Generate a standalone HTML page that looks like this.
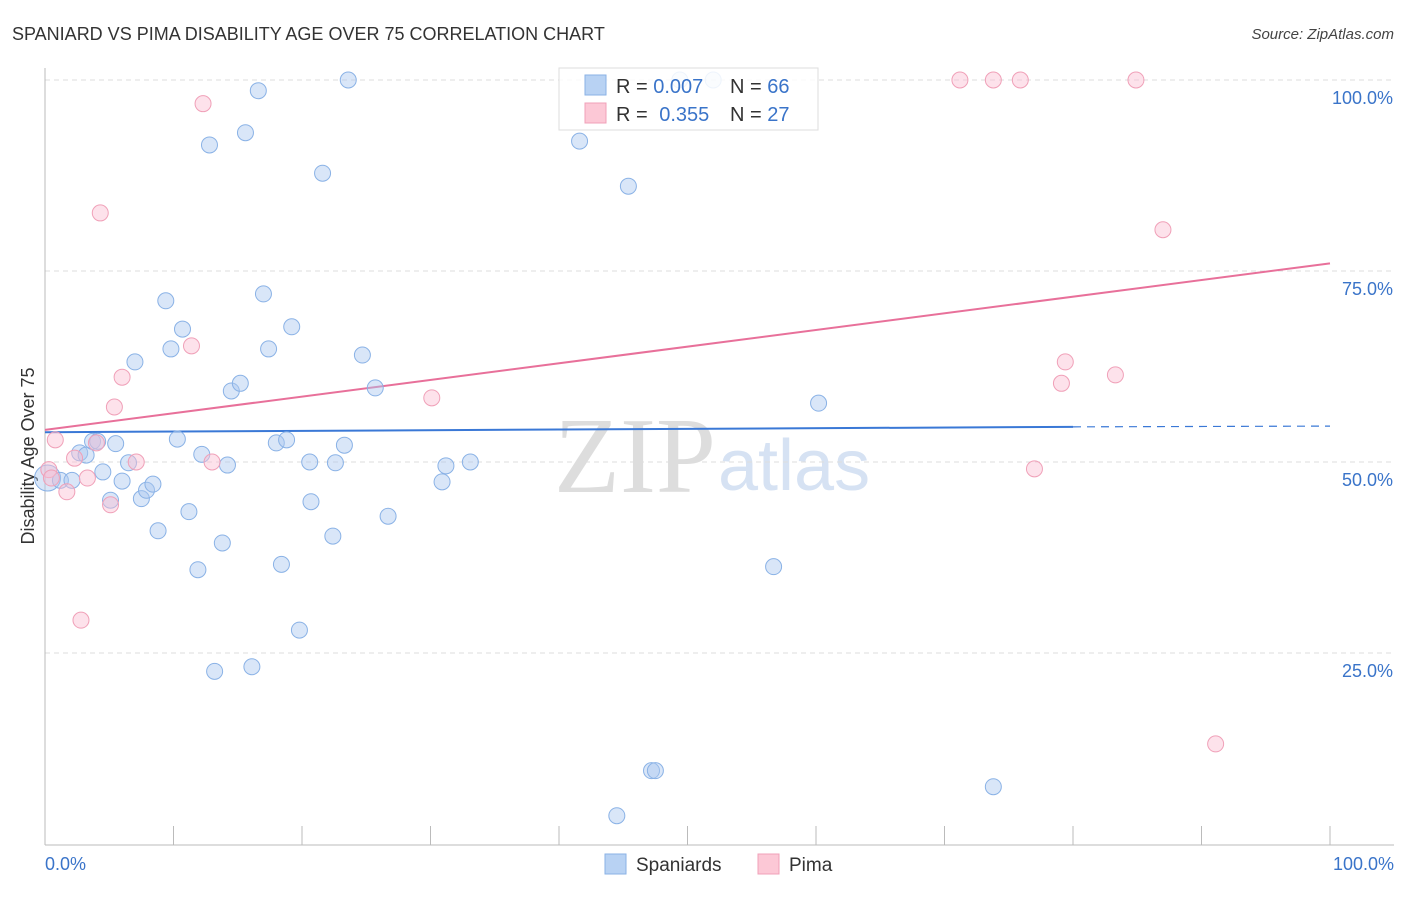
<!DOCTYPE html>
<html><head><meta charset="utf-8"><style>
body{margin:0;background:#fff;font-family:"Liberation Sans",sans-serif;}
</style></head><body>
<svg width="1406" height="892" xmlns="http://www.w3.org/2000/svg" id="chart">
<text x="12" y="40" font-size="18" fill="#333">SPANIARD VS PIMA DISABILITY AGE OVER 75 CORRELATION CHART</text>
<text x="1394" y="39" font-size="15" fill="#444" font-style="italic" text-anchor="end">Source: ZipAtlas.com</text>
<text x="34" y="456" font-size="18" fill="#333" text-anchor="middle" transform="rotate(-90 34 456)">Disability Age Over 75</text>
<text x="716" y="492" font-size="108" fill="#ddd" font-family="Liberation Serif,serif" text-anchor="end">ZIP</text>
<text x="718" y="490" font-size="72" fill="#d6e2f3" text-anchor="start">atlas</text>
<g id="grid"></g><g id="axes"></g><g id="trend"></g><g id="pts"></g>
<g>
<rect x="559" y="68" width="259" height="62" fill="#fff" fill-opacity="0.85" stroke="#ddd"/>
<rect x="585" y="75" width="21" height="20" fill="#b8d2f3" stroke="#8ab2e6"/>
<rect x="585" y="103" width="21" height="20" fill="#fcc8d6" stroke="#f0a0b8"/>
<text x="616" y="93" font-size="20" fill="#333">R = <tspan fill="#3a74c9">0.007</tspan></text>
<text x="730" y="93" font-size="20" fill="#333">N = <tspan fill="#3a74c9">66</tspan></text>
<text x="616" y="121" font-size="20" fill="#333">R = <tspan fill="#3a74c9" dx="6">0.355</tspan></text>
<text x="730" y="121" font-size="20" fill="#333">N = <tspan fill="#3a74c9">27</tspan></text>
</g>
<g>
<rect x="605" y="854" width="21" height="20" fill="#b8d2f3" stroke="#8ab2e6"/>
<text x="636" y="871" font-size="19" fill="#333">Spaniards</text>
<rect x="758" y="854" width="21" height="20" fill="#fcc8d6" stroke="#f0a0b8"/>
<text x="789" y="871" font-size="19" fill="#333">Pima</text>
</g>
</svg>
<script>
const blueX=[0.2,1.2,2.1,2.7,3.2,3.7,4.1,4.5,5.1,5.5,6.0,6.5,7.0,7.5,7.9,8.4,8.8,9.4,9.8,10.3,10.7,11.2,11.9,12.2,12.8,13.2,13.8,14.2,14.5,15.2,15.6,16.1,16.6,17.0,17.4,18.0,18.4,18.8,19.2,19.8,20.6,20.7,21.6,22.4,22.6,23.3,23.6,24.7,25.7,26.7,30.9,31.2,33.1,41.6,44.5,45.4,47.2,47.5,49.4,52.0,56.7,60.2,73.8];
const blueY=[47.9,47.6,47.6,51.2,50.9,52.7,52.7,48.7,45.0,52.4,47.5,49.9,63.1,45.2,46.3,47.1,41.0,71.1,64.8,53.0,67.4,43.5,35.9,51.0,91.5,22.6,39.4,49.6,59.3,60.3,93.1,23.2,98.6,72.0,64.8,52.5,36.6,52.9,67.7,28.0,50.0,44.8,87.8,40.3,49.9,52.2,100,64.0,59.7,42.9,47.4,49.5,50.0,92.0,3.7,86.1,9.6,9.6,100,100,36.3,57.7,7.5];
const pinkX=[0.3,0.8,1.7,2.3,2.8,3.3,4.0,4.3,5.1,5.4,6.0,7.1,11.4,12.3,13.0,30.1,71.2,73.8,75.9,77.0,79.1,79.4,83.3,84.9,87.0,91.1,0.5];
const pinkY=[49.0,52.9,46.1,50.5,29.3,47.9,52.5,82.6,44.4,57.2,61.1,50.0,65.2,96.9,50.0,58.4,100,100,100,49.1,60.3,63.1,61.4,100,80.4,13.1,47.9];
const blueTrend=[53.9,54.6,54.7]; // at 0, 80, 100
const pinkTrend=[54.2,76.0];
const yTicks=[25,50,75,100];
const xTickCount=10;
const NS="http://www.w3.org/2000/svg";
const X=v=>45+v*12.85, Y=v=>844-v*7.64;
function mk(tag,at,parent){const e=document.createElementNS(NS,tag);for(const k in at)e.setAttribute(k,at[k]);document.getElementById(parent).appendChild(e);return e;}
for(const t of yTicks){
 const g=mk('line',{x1:45,x2:1394,y1:Y(t),y2:Y(t),stroke:'#ddd','stroke-dasharray':'5,4'},'grid');
 
 
 const l=mk('text',{x:1393,y:Y(t)+24,'font-size':18,fill:'#3a74c9','text-anchor':'end'},'grid');
 l.textContent=t.toFixed(1)+'%';
 
 
}
const ya=mk('line',{x1:45,x2:45,y1:68,y2:845,stroke:'#bbb'},'axes');


const xa=mk('line',{x1:45,x2:1394,y1:845,y2:845,stroke:'#bbb'},'axes');


for(let i=0;i<=xTickCount;i++){
 const t=mk('line',{x1:X(i*10),x2:X(i*10),y1:826,y2:845,stroke:'#bbb'},'axes');
 
 
}
const xl0=mk('text',{x:45,y:870,'font-size':18,fill:'#3a74c9'},'axes');xl0.textContent='0.0%';


const xl1=mk('text',{x:1394,y:870,'font-size':18,fill:'#3a74c9','text-anchor':'end'},'axes');xl1.textContent='100.0%';


for(let i=0;i<blueX.length;i++){
 const c=mk('circle',{cx:X(blueX[i]),cy:Y(blueY[i]),r:i==0?13:8,fill:'rgba(170,200,240,0.45)',stroke:'#8ab2e6','stroke-width':1},'pts');
 
 
}
for(let i=0;i<pinkX.length;i++){
 const c=mk('circle',{cx:X(pinkX[i]),cy:Y(pinkY[i]),r:8,fill:'rgba(250,190,210,0.45)',stroke:'#f0a0b8','stroke-width':1},'pts');
 
 
}
const b1=mk('line',{x1:X(0),y1:Y(blueTrend[0]),x2:X(80),y2:Y(blueTrend[1]),stroke:'#3a78d6','stroke-width':2},'trend');


const b2=mk('line',{x1:X(80),y1:Y(blueTrend[1]),x2:X(100),y2:Y(blueTrend[2]),stroke:'#3a78d6','stroke-width':1.2,'stroke-dasharray':'8,6'},'trend');


const p1=mk('line',{x1:X(0),y1:Y(pinkTrend[0]),x2:X(100),y2:Y(pinkTrend[1]),stroke:'#e8709a','stroke-width':2},'trend');


</script>
</body></html>
